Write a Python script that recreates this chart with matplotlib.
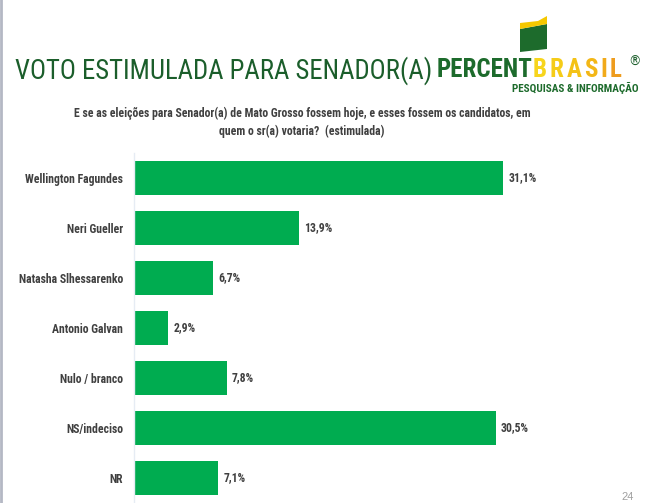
import numpy as np
import matplotlib.pyplot as plt
from matplotlib import patches

candidates = ["Wellington Fagundes", "Neri Gueller", "Natasha Slhessarenko",
              "Antonio Galvan", "Nulo / branco", "NS/indeciso", "NR"]
votes = [31.1, 13.9, 6.7, 2.9, 7.8, 30.5, 7.1]
vote_labels = ["31,1%", "13,9%", "6,7%", "2,9%", "7,8%", "30,5%", "7,1%"]

title = "VOTO ESTIMULADA PARA SENADOR(A)"
question = ("E se as eleições para Senador(a) de Mato Grosso fossem hoje, e esses fossem os candidatos, em\n"
            "quem o sr(a) votaria?  (estimulada)")
page_no = "24"

narrow = ['Roboto Condensed', 'Archivo Narrow', 'DejaVu Sans']
plt.rcParams['font.family'] = narrow
plt.rcParams['font.stretch'] = 'condensed'

bar_green = "#00ac50"
dark_green = "#1b5e2b"
label_grey = "#404040"

W, H = 670, 503
fig = plt.figure(figsize=(W / 100, H / 100), dpi=100)
fig.patch.set_facecolor("white")


def fx(px):
    return px / W


def fy(py):
    return 1 - py / H


# slide border on the left
fig.add_artist(plt.Line2D([fx(1), fx(1)], [0, 1], color="#b4b8c4", lw=2))

# bars
ax = fig.add_axes([fx(134), 0, 1 - fx(134), 350 / H])
y = np.arange(len(candidates))
ax.barh(y, votes, height=0.67, color=bar_green, zorder=2)
ax.set_ylim(len(candidates) - 0.5, -0.5)
ax.set_xlim(0, 536 / 11.86)
for i, v in enumerate(votes):
    ax.text(v + 0.45, i, vote_labels[i], va="center", ha="left",
            fontsize=8.5, fontweight="bold", color=label_grey)
ax.set_yticks(y)
ax.set_yticklabels(candidates, fontsize=8.5, fontweight="bold", color=label_grey)
ax.tick_params(axis="y", length=0, pad=8)
ax.set_xticks([])
for s in ["top", "right", "bottom"]:
    ax.spines[s].set_visible(False)
ax.spines["left"].set_color("#e6ecf4")
ax.spines["left"].set_linewidth(1)
ax.set_facecolor("none")

# title
fig.text(fx(15), fy(71), title, fontsize=19.3, color=dark_green,
         ha="left", va="center")

# logo: flag
flag = patches.Polygon([(fx(520), fy(52)), (fx(547), fy(49)), (fx(547), fy(24)),
                        (fx(520), fy(29))], closed=True, transform=fig.transFigure,
                       facecolor="#1d6b2c", edgecolor="none")
band = patches.Polygon([(fx(520), fy(29)), (fx(547), fy(24)), (fx(547), fy(16)),
                        (fx(538), fy(21)), (fx(520), fy(23))], closed=True,
                       transform=fig.transFigure, facecolor="#f5c800", edgecolor="none")
fig.add_artist(flag)
fig.add_artist(band)

t = fig.text(fx(437), fy(77), "PERCENT", fontsize=18, fontweight="bold",
             color="#1d6b2c", ha="left", va="baseline")
brasil_cols = ["#f7d51c", "#f5cc18", "#f4c216", "#f3b716", "#f1aa1a", "#ee9c1e"]
prev = t
for k, (letter, c) in enumerate(zip("BRASIL", brasil_cols)):
    prev = ax.annotate(letter, xy=(1, 0), xycoords=prev, xytext=(0 if k == 0 else 2, 0),
                       textcoords="offset points", fontsize=18, fontweight="bold",
                       color=c, ha="left", va="bottom", annotation_clip=False)
ax.annotate("®", xy=(1, 1), xycoords=prev, xytext=(5, 2), textcoords="offset points",
            fontsize=10, color=dark_green, ha="left", va="top",
            family=['DejaVu Sans'], annotation_clip=False)
fig.text(fx(639), fy(88), "PESQUISAS & INFORMAÇÃO", fontsize=8, fontweight="bold",
         color="#1d6b2c", ha="right", va="center")

# question
fig.text(fx(302), fy(122), question, fontsize=8.5, fontweight="bold",
         color=label_grey, ha="center", va="center", linespacing=1.45)

fig.text(fx(628), fy(497), page_no, fontsize=8, color="#a0a0a0",
         ha="center", va="center", family=['Liberation Sans', 'DejaVu Sans'])

fig.savefig("out.png", dpi=100)
